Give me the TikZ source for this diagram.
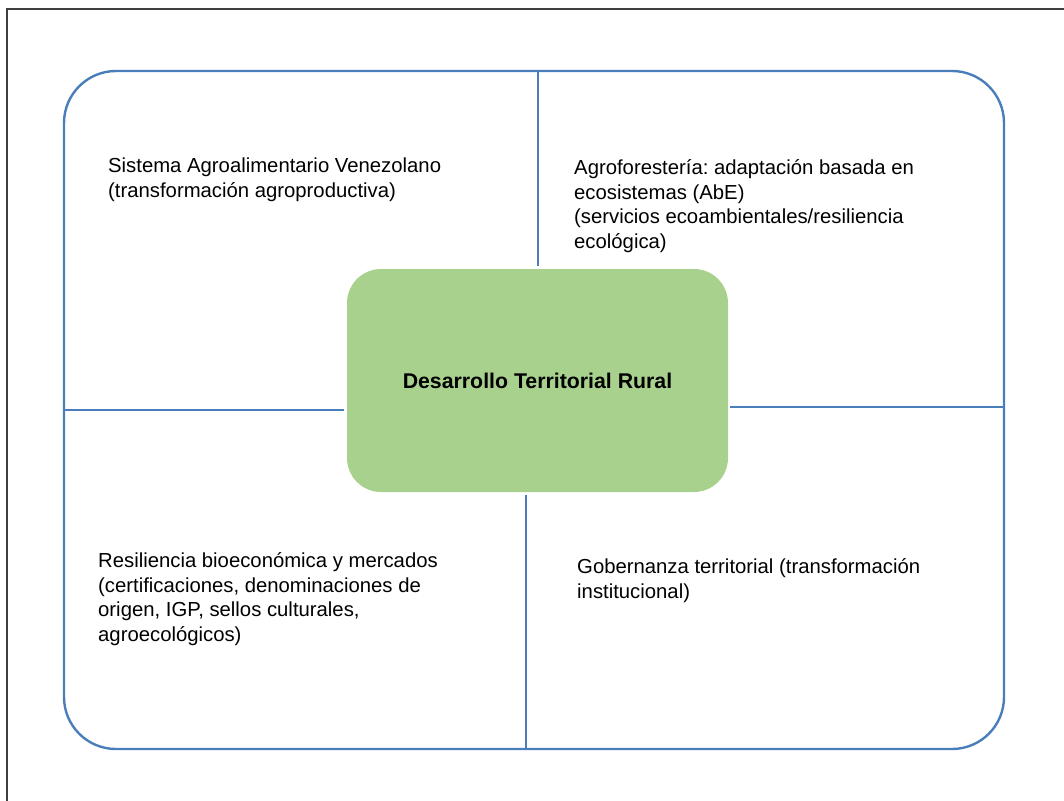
\documentclass[tikz,border=0pt]{standalone}
\usepackage{fontspec}
\setmainfont{Liberation Sans}
\frenchspacing
\definecolor{lineblue}{RGB}{74,126,187}
\definecolor{boxgreen}{RGB}{169,209,142}
\definecolor{framegray}{RGB}{64,64,64}
\begin{document}
\begin{tikzpicture}[x=1pt,y=-1pt,
  sep/.style={draw=lineblue,line width=2.4pt},
  quad/.style={anchor=base west,align=left,inner sep=0pt,font=\fontsize{20.3}{24.5}\selectfont},
  centerbox/.style={fill=boxgreen,draw=none,rounded corners=34pt,minimum width=381pt,minimum height=223pt,inner sep=0pt,font=\fontsize{21.3}{24}\selectfont\bfseries}]
\useasboundingbox (0,0) rectangle (1064,800);
\draw[framegray,line width=1.5pt] (7,801) -- (7,9) -- (1065,9);
% outer rounded rectangle
\draw[sep,rounded corners=52pt] (64,71) rectangle (1004,749);
% center node
\node[centerbox] (c) at (537.5,380.5) {Desarrollo Territorial Rural};
% separators
\coordinate (tA) at (538,71);
\coordinate (tB) at (538,266);
\coordinate (lA) at (64,410);
\coordinate (lB) at (344,410);
\coordinate (rA) at (730,407);
\coordinate (rB) at (1004,407);
\coordinate (bA) at (526,495);
\coordinate (bB) at (526,749);
\draw[sep] (tA) -- (tB);
\draw[sep] (lA) -- (lB);
\draw[sep] (rA) -- (rB);
\draw[sep] (bA) -- (bB);
% quadrant texts (anchor = baseline of last line)
\node[quad] (q1) at (108,197) {Sistema Agroalimentario Venezolano\\(transformación agroproductiva)};
\node[quad] (q2) at (574,248) {Agroforestería: adaptación basada en\\ecosistemas (AbE)\\(servicios ecoambientales/resiliencia\\ecológica)};
\node[quad] (q3) at (98,641) {Resiliencia bioeconómica y mercados\\(certificaciones, denominaciones de\\origen, IGP, sellos culturales,\\agroecológicos)};
\node[quad] (q4) at (577,598) {Gobernanza territorial (transformación\\institucional)};
\end{tikzpicture}
\end{document}
